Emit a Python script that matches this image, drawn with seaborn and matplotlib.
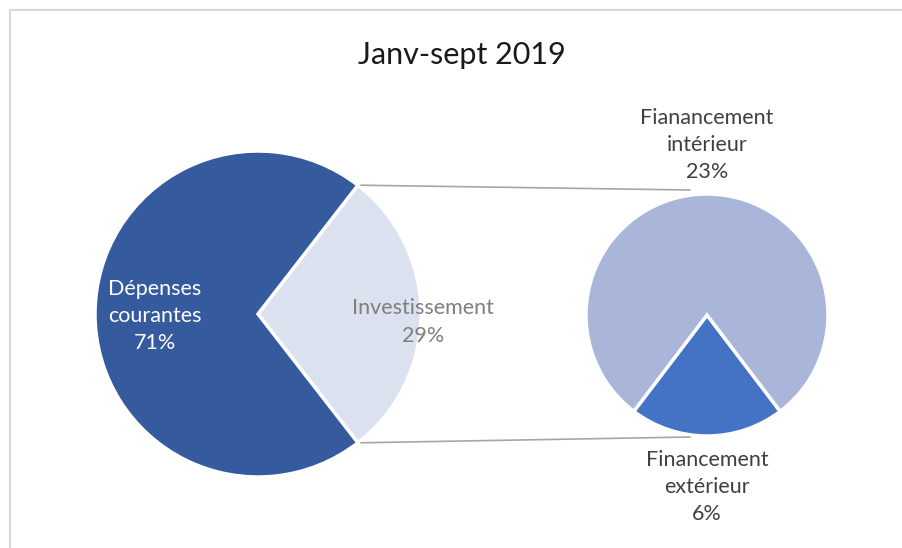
import matplotlib
matplotlib.use("Agg")
import matplotlib.pyplot as plt
import numpy as np
import seaborn as sns

# Budget split, Jan–Sep 2019
main_labels = ["Investissement", "Dépenses\ncourantes"]
main_values = [29, 71]
sub_labels = ["Financement\nextérieur", "Fianancement\nintérieur"]
sub_values = [6, 23]

main_colors = ["#DCE1F0", "#355A9E"]
sub_colors = ["#4472C4", "#A9B6DA"]

sns.set_theme(style="white")
plt.rcParams["font.family"] = ["Lato", "DejaVu Sans"]

W, H = 902, 548
fig = plt.figure(figsize=(W / 100, H / 100), dpi=100)
ax = fig.add_axes([0, 0, 1, 1])

# Chart frame
ax.plot([10, 10, W], [0, H - 10, H - 10], color="#D9D9D9", lw=1.5)

# Main pie: the investment slice faces the secondary pie
c1, r1 = (258, 234), 163
inv_half = 360 * main_values[0] / sum(main_values) / 2
ax.pie(main_values, colors=main_colors, startangle=-inv_half,
       center=c1, radius=r1, counterclock=True,
       wedgeprops=dict(edgecolor="white", linewidth=2.5))

# Secondary pie: breakdown of investment
c2, r2 = (707, 233), 121
ext_half = 360 * sub_values[0] / sum(sub_values) / 2
ax.pie(sub_values, colors=sub_colors, startangle=-90 - ext_half,
       center=c2, radius=r2, counterclock=True,
       wedgeprops=dict(edgecolor="white", linewidth=2.5))

ax.set_xlim(0, W)
ax.set_ylim(0, H)
ax.set_aspect("equal")
ax.axis("off")

# Connector lines between the two pies
a = np.deg2rad(inv_half)
x0 = c1[0] + r1 * np.cos(a) + 3
ax.plot([x0, 690], [c1[1] + r1 * np.sin(a), c2[1] + r2 + 4],
        color="#A6A6A6", lw=1.2)
ax.plot([x0, 690], [c1[1] - r1 * np.sin(a), c2[1] - r2 - 1],
        color="#A6A6A6", lw=1.2)

fs = 15.5
ls = 1.45
ax.text(155, 232, f"{main_labels[1]}\n{main_values[1]}%", ha="center",
        va="center", color="white", fontsize=fs, linespacing=ls)
ax.text(423, 226, f"{main_labels[0]}\n{main_values[0]}%", ha="center",
        va="center", color="#7F7F7F", fontsize=fs, linespacing=ls)
ax.text(707, 403, f"{sub_labels[1]}\n{sub_values[1]}%", ha="center",
        va="center", color="#404040", fontsize=fs, linespacing=ls)
ax.text(707, 61, f"{sub_labels[0]}\n{sub_values[0]}%", ha="center",
        va="center", color="#404040", fontsize=fs, linespacing=ls)

ax.text(462, H - 55, "Janv-sept 2019", ha="center", va="center",
        color="#1A1A1A", fontsize=22)

fig.savefig("out.png", dpi=100)
